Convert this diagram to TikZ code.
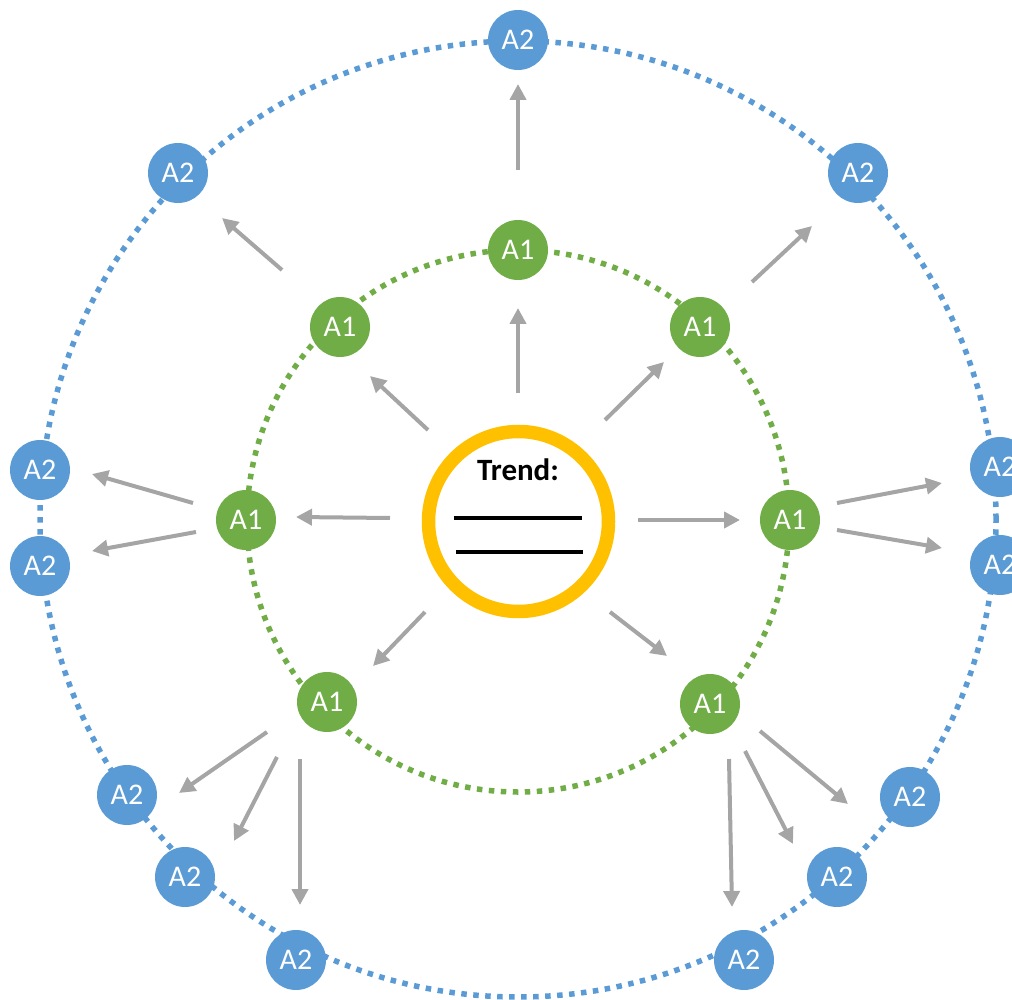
\documentclass[tikz,border=0pt]{standalone}
\usepackage{fontspec}
\setmainfont{Carlito}
\usetikzlibrary{arrows.meta}
\definecolor{bluec}{HTML}{5B9BD5}
\definecolor{greenc}{HTML}{70AD47}
\definecolor{orangec}{HTML}{FFC000}
\definecolor{grayc}{HTML}{A5A5A5}
\tikzset{
  anode/.style={circle, fill=#1, minimum size=60pt, inner sep=0pt, text=white, font=\fontsize{30}{30}\selectfont},
  ring/.style={draw=#1, line width=5.5pt, dash pattern=on 5.5pt off 6.5pt},
  arr/.style={draw=grayc, line width=4pt, -{Triangle[length=16pt,width=16pt]}},
}
\begin{document}
\begin{tikzpicture}[x=1pt, y=-1pt]
\useasboundingbox (0,0) rectangle (1012,1000);
% rings
\coordinate (O) at (518,519);
\draw[ring=bluec] (O) circle (478pt);
\draw[ring=greenc] (518,521) circle (271pt);
% center
\node[circle, draw=orangec, line width=13.5pt, fill=white, minimum size=180pt, inner sep=0pt] (T) at (518.5,521.5) {};
\node[font=\bfseries\fontsize{31}{31}\selectfont] (TL) at (518,470) {Trend:};
\coordinate (l1a) at (454,518); \coordinate (l1b) at (582,518);
\coordinate (l2a) at (456,552); \coordinate (l2b) at (583,552);
\draw[line width=3.5pt] (l1a) -- (l1b);
\draw[line width=3.5pt] (l2a) -- (l2b);
% A1 nodes
\node[anode=greenc] (g1) at (518,250) {A1};
\node[anode=greenc] (g2) at (340,327) {A1};
\node[anode=greenc] (g3) at (700,327) {A1};
\node[anode=greenc] (g4) at (246,520) {A1};
\node[anode=greenc] (g5) at (790,520) {A1};
\node[anode=greenc] (g6) at (327,702) {A1};
\node[anode=greenc] (g7) at (710,704) {A1};
% A2 nodes
\node[anode=bluec] (b1) at (518,40) {A2};
\node[anode=bluec] (b2) at (178,173) {A2};
\node[anode=bluec] (b3) at (858,173) {A2};
\node[anode=bluec] (b4) at (40,470) {A2};
\node[anode=bluec] (b5) at (40,566) {A2};
\node[anode=bluec] (b6) at (1000,467) {A2};
\node[anode=bluec] (b7) at (1000,565) {A2};
\node[anode=bluec] (b8) at (127,795) {A2};
\node[anode=bluec] (b9) at (185,877) {A2};
\node[anode=bluec] (b10) at (296,960) {A2};
\node[anode=bluec] (b11) at (910,797) {A2};
\node[anode=bluec] (b12) at (837,877) {A2};
\node[anode=bluec] (b13) at (744,960) {A2};
% arrow end points
\coordinate (c1s) at (518,393); \coordinate (c1e) at (518,308);
\coordinate (c2s) at (428,430); \coordinate (c2e) at (370,376);
\coordinate (c3s) at (605,420); \coordinate (c3e) at (664,362);
\coordinate (c4s) at (390,518); \coordinate (c4e) at (296,517);
\coordinate (c5s) at (638,520); \coordinate (c5e) at (740,520);
\coordinate (c6s) at (425,612); \coordinate (c6e) at (373,666);
\coordinate (c7s) at (610,612); \coordinate (c7e) at (667,656);
\coordinate (o1s) at (518,170); \coordinate (o1e) at (518,84);
\coordinate (o2s) at (282,270); \coordinate (o2e) at (222,218);
\coordinate (o3s) at (752,282); \coordinate (o3e) at (812,226);
\coordinate (o4s) at (193,503); \coordinate (o4e) at (92,474);
\coordinate (o5s) at (196,532); \coordinate (o5e) at (92,551);
\coordinate (o6s) at (837,503); \coordinate (o6e) at (942,483);
\coordinate (o7s) at (837,530); \coordinate (o7e) at (942,548);
\coordinate (o8s) at (267,732); \coordinate (o8e) at (179,793);
\coordinate (o9s) at (277,757); \coordinate (o9e) at (234,841);
\coordinate (o10s) at (300,759); \coordinate (o10e) at (300,905);
\coordinate (o11s) at (760,731); \coordinate (o11e) at (848,804);
\coordinate (o12s) at (745,751); \coordinate (o12e) at (793,844);
\coordinate (o13s) at (729,759); \coordinate (o13e) at (732,907);
\foreach \a in {c1,c2,c3,c4,c5,c6,c7,o1,o2,o3,o4,o5,o6,o7,o8,o9,o10,o11,o12,o13}
  \draw[arr] (\a s) -- (\a e);
\end{tikzpicture}
\end{document}
